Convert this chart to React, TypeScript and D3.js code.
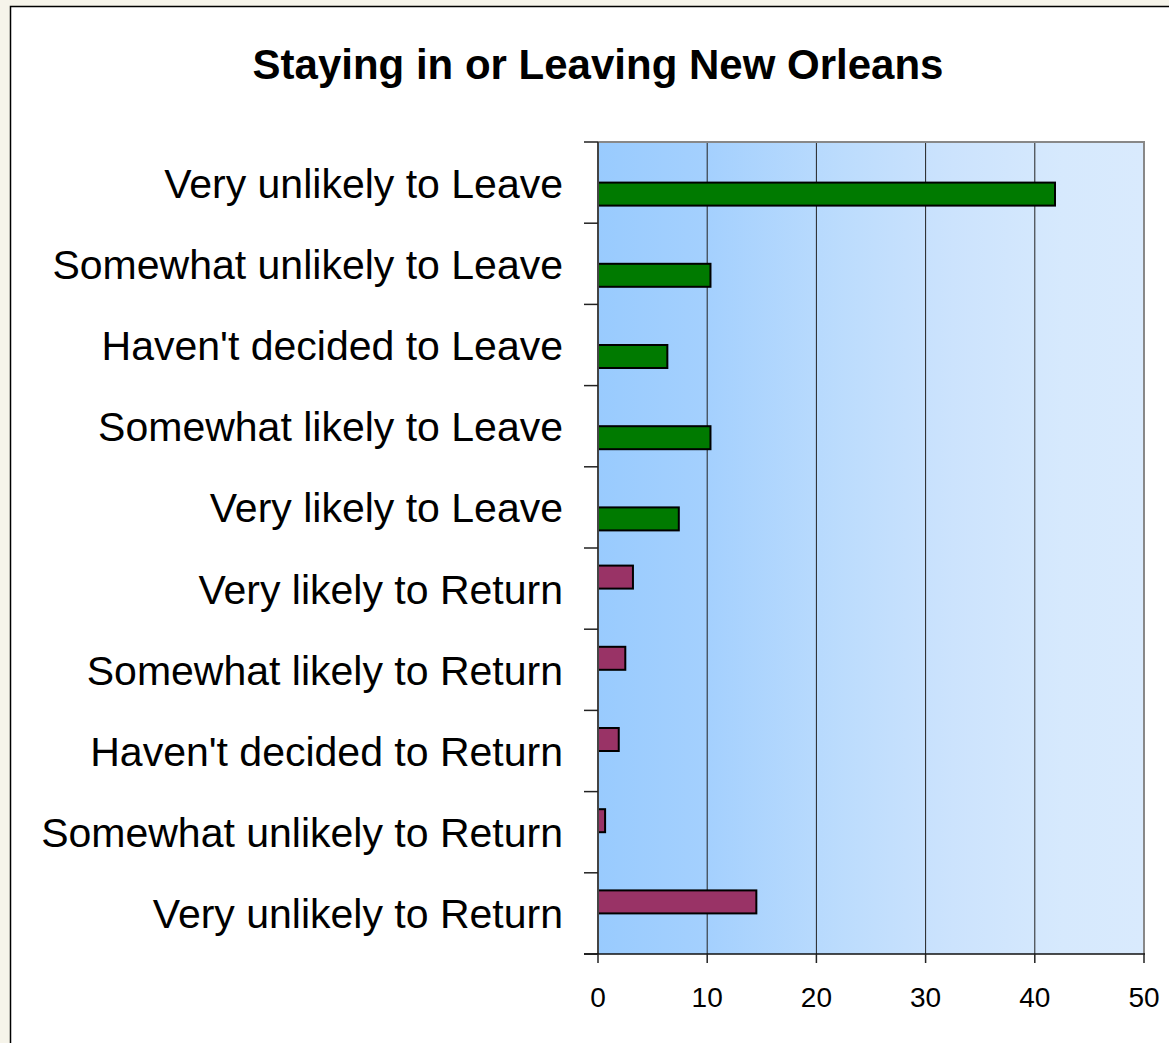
import React from "react";
import * as d3 from "d3";

const categories = [
  "Very unlikely to Leave",
  "Somewhat unlikely to Leave",
  "Haven't decided to Leave",
  "Somewhat likely to Leave",
  "Very likely to Leave",
  "Very likely to Return",
  "Somewhat likely to Return",
  "Haven't decided to Return",
  "Somewhat unlikely to Return",
  "Very unlikely to Return",
];
const leaveValues = [41.85, 10.3, 6.35, 10.3, 7.4, 0, 0, 0, 0, 0];
const returnValues = [0, 0, 0, 0, 0, 3.2, 2.5, 1.9, 0.65, 14.5];
const seriesNames = ["Return", "Leave"];
const seriesColors = ["#993366", "#007a00"];
const xTicks = [0, 10, 20, 30, 40, 50];
const title = "Staying in or Leaving New Orleans";

const W = 1169;
const H = 1043;

export default function App() {
  const left = 598;
  const right = 1144;
  const top = 142;
  const bottom = 954;

  const x = d3.scaleLinear().domain([0, 50]).range([left, right]);
  const y = d3.scaleBand<string>().domain(categories).range([top, bottom]).paddingInner(0).paddingOuter(0);
  const step = y.bandwidth();
  const sub = d3
    .scaleBand<string>()
    .domain(seriesNames)
    .range([step / 2 - 23, step / 2 + 23]);

  const seriesData = [returnValues, leaveValues];
  const tickYs = categories.map((c) => y(c)!).concat([bottom]);

  return (
    <svg
      width={W}
      height={H}
      style={{ position: "absolute", left: 0, top: 0 }}
      fontFamily="'Liberation Sans', Arial, sans-serif"
    >
      <defs>
        <linearGradient id="bg" x1="0" x2="1" y1="0" y2="0">
          <stop offset="0" stopColor="#99cbfe" />
          <stop offset="0.2" stopColor="#a4d0fe" />
          <stop offset="0.45" stopColor="#bcdcfd" />
          <stop offset="0.65" stopColor="#cce3fd" />
          <stop offset="0.85" stopColor="#d6e9fd" />
          <stop offset="1" stopColor="#d9eafd" />
        </linearGradient>
      </defs>
      <rect x={0} y={0} width={W} height={H} fill="#f6f4ea" />
      <rect x={10.5} y={6.5} width={W + 20} height={H + 20} fill="#ffffff" stroke="#000" strokeWidth={1.5} />

      <text
        x={598}
        y={79}
        textAnchor="middle"
        fontSize={42}
        fontWeight="bold"
        fill="#000"
      >
        {title}
      </text>

      <rect x={left} y={top} width={right - left} height={bottom - top} fill="url(#bg)" />

      {xTicks.slice(1, -1).map((t) => (
        <line key={"g" + t} x1={x(t)} x2={x(t)} y1={top} y2={bottom} stroke="#222" strokeWidth={1} />
      ))}

      {/* plot border top & right */}
      <line x1={left} x2={right + 1} y1={top} y2={top} stroke="#888" strokeWidth={2} />
      <line x1={right} x2={right} y1={top} y2={bottom} stroke="#888" strokeWidth={2} />

      {/* bars */}
      {seriesData.map((vals, si) =>
        categories.map((c, i) =>
          vals[i] > 0 ? (
            <rect
              key={si + "-" + i}
              x={x(0)}
              y={y(c)! + sub(seriesNames[si])!}
              width={x(vals[i]) - x(0)}
              height={sub.bandwidth()}
              fill={seriesColors[si]}
              stroke="#000"
              strokeWidth={2}
            />
          ) : null
        )
      )}

      {/* left axis */}
      <line x1={left} x2={left} y1={top} y2={bottom} stroke="#444" strokeWidth={2} />
      {tickYs.map((ty, i) => (
        <line key={"yt" + i} x1={left - 14} x2={left} y1={ty} y2={ty} stroke="#222" strokeWidth={1.5} />
      ))}
      {/* bottom axis */}
      <line x1={left - 14} x2={right + 1} y1={bottom} y2={bottom} stroke="#111" strokeWidth={1.5} />
      {xTicks.map((t) => (
        <line key={"xt" + t} x1={x(t)} x2={x(t)} y1={bottom} y2={bottom + 9} stroke="#222" strokeWidth={1.5} />
      ))}
      {xTicks.map((t) => (
        <text key={"xl" + t} x={x(t)} y={1007} textAnchor="middle" fontSize={28} fill="#000">
          {t}
        </text>
      ))}

      {categories.map((c) => (
        <text
          key={c}
          x={563}
          y={y(c)! + step / 2 + 15}
          textAnchor="end"
          fontSize={41}
          fill="#000"
        >
          {c}
        </text>
      ))}
    </svg>
  );
}
